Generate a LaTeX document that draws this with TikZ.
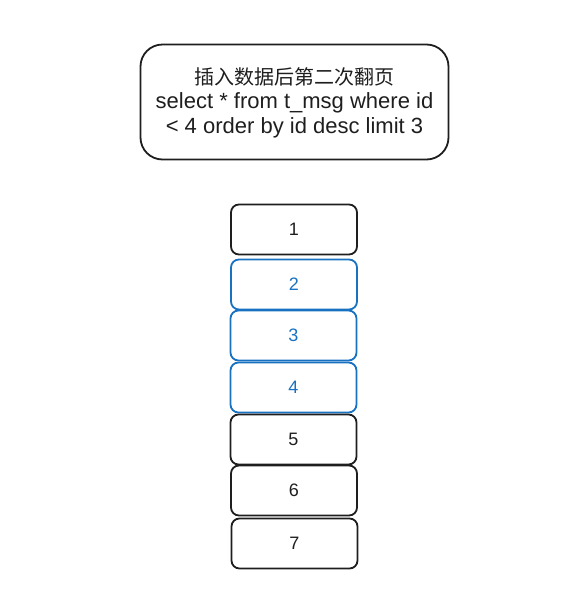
\documentclass[tikz,border=0pt]{standalone}
\usepackage{fontspec}
\setmainfont{Liberation Sans}
\newfontfamily\cjk{Noto Sans CJK SC}
\definecolor{inkblack}{HTML}{1E1E1E}
\definecolor{inkblue}{HTML}{1971C2}

\begin{document}
\begin{tikzpicture}[x=1pt,y=-1pt]
\tikzset{
  rowbox/.style={draw=inkblack, line width=1.8pt, rounded corners=8pt,
    minimum width=126pt, minimum height=50pt, inner sep=0pt,
    text=inkblack, font=\fontsize{18}{20}\selectfont},
  hitbox/.style={rowbox, draw=inkblue, text=inkblue},
  notebox/.style={draw=inkblack, line width=1.8pt, rounded corners=22pt,
    minimum width=308pt, minimum height=115pt, inner sep=0pt},
  sqlline/.style={text=inkblack, font=\fontsize{22}{24}\selectfont}
}
\useasboundingbox (0,0) rectangle (582,611);
% query box
\node [notebox] (query) at (294.5,102) {};
\node [text=inkblack, font=\cjk\fontsize{20}{22}\selectfont] (title) at (294.5,77) {插入数据后第二次翻页};
\node [sqlline] (sqlone) at (294.5,103) {select * from t\_msg where id};
\node [sqlline] (sqltwo) at (294.5,128) {< 4 order by id desc limit 3};
% rows
\node [rowbox] (row1) at (294,229.5) {1};
\node [hitbox] (row2) at (294,284.5) {2};
\node [hitbox] (row3) at (293.5,335.5) {3};
\node [hitbox] (row4) at (293.5,387.5) {4};
\node [rowbox] (row5) at (293.5,439.5) {5};
\node [rowbox] (row6) at (294,490.5) {6};
\node [rowbox] (row7) at (294.5,543.5) {7};
\end{tikzpicture}
\end{document}
